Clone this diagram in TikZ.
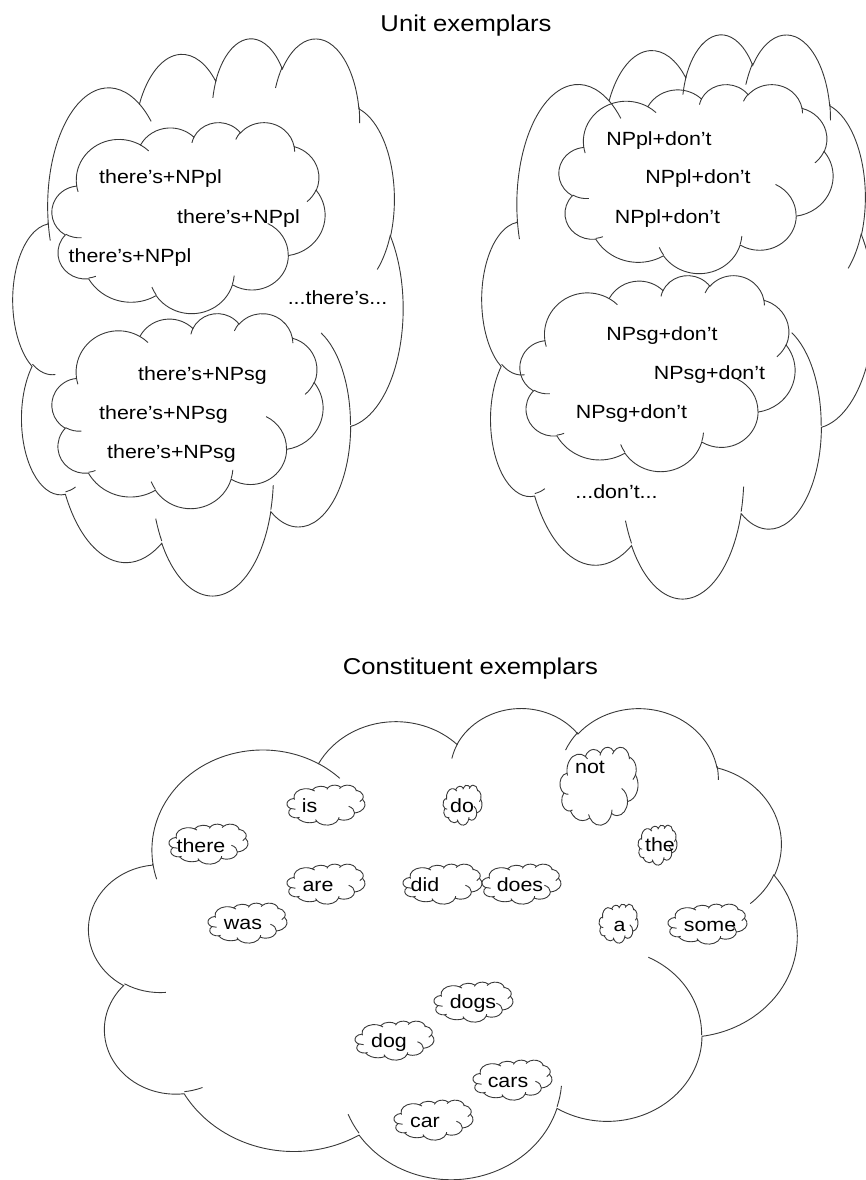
\documentclass[tikz,border=0pt]{standalone}
\usepackage{fontspec}
\setmainfont{Liberation Sans}[FakeStretch=1.12]
% parametric start angle and sweep of an OOXML arcTo (visual angles, y down)
\newcommand\defarc[5]{%
  \pgfmathsetmacro\tmpA{atan2((#2)*sin(#4),(#3)*cos(#4))}%
  \pgfmathsetmacro\tmpB{atan2((#2)*sin((#4)+(#5)),(#3)*cos((#4)+(#5)))}%
  \pgfmathsetmacro\tmpD{mod(\tmpB-\tmpA+720,360)}%
  \expandafter\xdef\csname arcS#1\endcsname{\tmpA}%
  \expandafter\xdef\csname arcD#1\endcsname{\tmpD}%
}
\defarc{A}{6.753}{9.190}{-190.4875}{123.7805}
\defarc{B}{5.333}{7.267}{-144.1024}{89.9452}
\defarc{C}{4.365}{5.945}{-145.8079}{99.7230}
\defarc{D}{4.857}{6.595}{-130.9861}{117.2417}
\defarc{E}{5.333}{7.273}{-78.7089}{109.0269}
\defarc{F}{6.775}{9.220}{-46.2673}{130.2690}
\defarc{G}{5.785}{7.867}{0.6250}{114.0333}
\defarc{H}{6.752}{9.215}{22.4516}{115.1726}
\defarc{I}{7.720}{10.543}{66.2426}{75.7110}
\defarc{J}{4.360}{5.918}{-274.9421}{146.7356}
\defarc{K}{4.345}{5.945}{-246.8285}{152.5189}
\defarc{a}{4.345}{5.945}{86.7420}{26.4295}
\defarc{b}{4.360}{5.918}{73.6105}{11.4475}
\defarc{c}{6.752}{9.215}{137.6242}{14.0811}
\defarc{d}{6.752}{9.215}{6.4533}{15.9984}
\defarc{e}{5.785}{7.867}{-70.2924}{70.9174}
\defarc{f}{5.333}{7.273}{30.3180}{27.7515}
\defarc{g}{4.857}{6.595}{-13.7443}{14.8589}
\defarc{h}{4.857}{6.595}{-149.1815}{18.1954}
\defarc{i}{4.365}{5.945}{-163.4943}{17.6864}
\defarc{j}{6.753}{9.190}{-66.7070}{12.3194}
\defarc{k}{6.753}{9.190}{157.6544}{11.8582}
% cloud in a box: left, top, width, height (pixels, y down)
\newcommand\drawcloud[4]{%
  \begin{scope}[shift={(#1,#2)}]
  \begin{scope}[x=1pt,y=1pt,xscale=#3/43.2,yscale=-#4/43.2]
    \draw[cloudline] (3.900,14.370)
      arc[start angle=\arcSA,delta angle=\arcDA,x radius=6.753pt,y radius=9.190pt]
      arc[start angle=\arcSB,delta angle=\arcDB,x radius=5.333pt,y radius=7.267pt]
      arc[start angle=\arcSC,delta angle=\arcDC,x radius=4.365pt,y radius=5.945pt]
      arc[start angle=\arcSD,delta angle=\arcDD,x radius=4.857pt,y radius=6.595pt]
      arc[start angle=\arcSE,delta angle=\arcDE,x radius=5.333pt,y radius=7.273pt]
      arc[start angle=\arcSF,delta angle=\arcDF,x radius=6.775pt,y radius=9.220pt]
      arc[start angle=\arcSG,delta angle=\arcDG,x radius=5.785pt,y radius=7.867pt]
      arc[start angle=\arcSH,delta angle=\arcDH,x radius=6.752pt,y radius=9.215pt]
      arc[start angle=\arcSI,delta angle=\arcDI,x radius=7.720pt,y radius=10.543pt]
      arc[start angle=\arcSJ,delta angle=\arcDJ,x radius=4.360pt,y radius=5.918pt]
      arc[start angle=\arcSK,delta angle=\arcDK,x radius=4.345pt,y radius=5.945pt]
      -- cycle;
    \draw[cloudline]
      (4.693,26.177) arc[start angle=\arcSa,delta angle=\arcDa,x radius=4.345pt,y radius=5.945pt]
      (6.928,34.899) arc[start angle=\arcSb,delta angle=\arcDb,x radius=4.360pt,y radius=5.918pt]
      (16.478,39.090) arc[start angle=\arcSc,delta angle=\arcDc,x radius=6.752pt,y radius=9.215pt]
      (28.827,34.751) arc[start angle=\arcSd,delta angle=\arcDd,x radius=6.752pt,y radius=9.215pt]
      (34.129,22.954) arc[start angle=\arcSe,delta angle=\arcDe,x radius=5.785pt,y radius=7.867pt]
      (41.798,15.354) arc[start angle=\arcSf,delta angle=\arcDf,x radius=5.333pt,y radius=7.273pt]
      (38.324,5.426) arc[start angle=\arcSg,delta angle=\arcDg,x radius=4.857pt,y radius=6.595pt]
      (29.078,3.952) arc[start angle=\arcSh,delta angle=\arcDh,x radius=4.857pt,y radius=6.595pt]
      (22.141,4.720) arc[start angle=\arcSi,delta angle=\arcDi,x radius=4.365pt,y radius=5.945pt]
      (14.000,5.192) arc[start angle=\arcSj,delta angle=\arcDj,x radius=6.753pt,y radius=9.190pt]
      (4.127,15.789) arc[start angle=\arcSk,delta angle=\arcDk,x radius=6.753pt,y radius=9.190pt];
  \end{scope}
  \end{scope}}
\begin{document}
\begin{tikzpicture}[x=1pt,y=-1pt,
  cloudline/.style={draw=black!78,line width=0.9pt},
  lbl/.style={font=\fontsize{19.1}{22}\selectfont,inner sep=0pt,anchor=base},
  ttl/.style={font=\fontsize{22.9}{26}\selectfont,inner sep=0pt,anchor=base}]
\useasboundingbox (0,0) rectangle (865,1180);
% titles
\node[ttl] (tUnit) at (466,32) {Unit exemplars};
\node[ttl] (tCons) at (470.5,674) {Constituent exemplars};
% unit exemplar clouds
\drawcloud{13}{37}{390}{557}
\drawcloud{52}{122}{273}{191}
\drawcloud{52}{313}{271}{195}
\drawcloud{482}{33}{392}{564}
\drawcloud{559}{84}{274}{189}
\drawcloud{520}{275}{275}{196}
\node[lbl] (pl1) at (160.5,183.5) {there’s+NPpl};
\node[lbl] (pl2) at (238.5,223.5) {there’s+NPpl};
\node[lbl] (pl3) at (130,262.5) {there’s+NPpl};
\node[lbl] (th) at (337.5,304.5) {...there’s...};
\node[lbl] (sg1) at (202.5,380.5) {there’s+NPsg};
\node[lbl] (sg2) at (163.5,419.5) {there’s+NPsg};
\node[lbl] (sg3) at (171.5,458.5) {there’s+NPsg};
\node[lbl] (dpl1) at (659,145.5) {NPpl+don’t};
\node[lbl] (dpl2) at (698,183.5) {NPpl+don’t};
\node[lbl] (dpl3) at (667.5,223.5) {NPpl+don’t};
\node[lbl] (dsg1) at (662,340.5) {NPsg+don’t};
\node[lbl] (dsg2) at (709.5,379.5) {NPsg+don’t};
\node[lbl] (dsg3) at (631.5,418.5) {NPsg+don’t};
\node[lbl] (dn) at (616.5,498.5) {...don’t...};
% constituent exemplars
\drawcloud{89}{707}{708}{471}
\drawcloud{287}{785}{78}{40}
\drawcloud{443}{785}{39}{40}
\drawcloud{560}{747}{78}{78}
\drawcloud{169}{824}{79}{40}
\drawcloud{638}{825}{39}{40}
\drawcloud{287}{864}{78}{40}
\drawcloud{403}{864}{79}{40}
\drawcloud{482}{864}{79}{40}
\drawcloud{208}{903}{79}{40}
\drawcloud{599}{904}{39}{39}
\drawcloud{668}{904}{79}{40}
\drawcloud{434}{982}{79}{40}
\drawcloud{355}{1021}{79}{39}
\drawcloud{473}{1060}{79}{40}
\drawcloud{394}{1100}{79}{40}
\node[lbl] (wis) at (309.5,812.5) {is};
\node[lbl] (wdo) at (462,812.5) {do};
\node[lbl] (wnot) at (590,773.5) {not};
\node[lbl] (wthere) at (201,852.5) {there};
\node[lbl] (wthe) at (660,851.5) {the};
\node[lbl] (ware) at (318,891.5) {are};
\node[lbl] (wdid) at (425,891.5) {did};
\node[lbl] (wdoes) at (520,891.5) {does};
\node[lbl] (wwas) at (243,929.5) {was};
\node[lbl] (wa) at (619.5,931.5) {a};
\node[lbl] (wsome) at (710,931.5) {some};
\node[lbl] (wdogs) at (473,1008.5) {dogs};
\node[lbl] (wdog) at (389,1047.5) {dog};
\node[lbl] (wcars) at (508,1087.5) {cars};
\node[lbl] (wcar) at (425,1127.5) {car};
\end{tikzpicture}
\end{document}
